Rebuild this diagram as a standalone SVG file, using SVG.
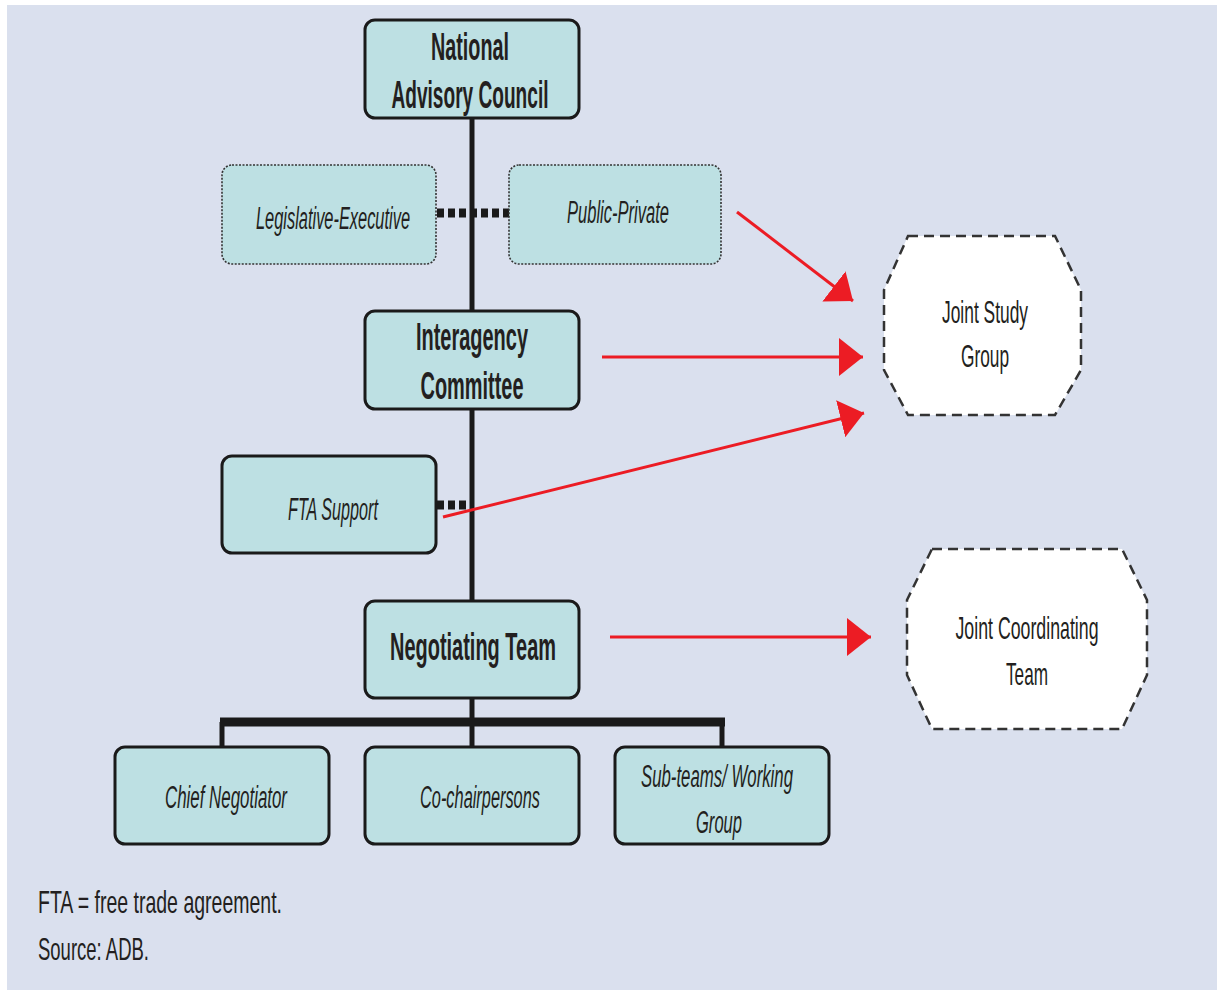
<svg xmlns="http://www.w3.org/2000/svg" width="1217" height="990" viewBox="0 0 1217 990">
<defs>
<style>
.box{fill:#bde0e3;stroke:#1a1a1a;stroke-width:3}
.dbox{fill:#bde0e3;stroke:#333;stroke-width:1.6;stroke-dasharray:2 1.5}
.oct{fill:#ffffff;stroke:#333;stroke-width:2.5;stroke-dasharray:10 6}
.t{font-family:"Liberation Sans Narrow","Liberation Sans",Arial,sans-serif;fill:#231f20;text-anchor:middle}
.b{font-weight:bold;font-size:38px}
.i{font-style:italic;font-size:31px}
.r{font-size:32px}
.line{stroke:#1a1a1a;stroke-width:5;fill:none}
.dot{stroke:#1a1a1a;stroke-width:9;stroke-dasharray:7 4;fill:none}
.red{stroke:#ec1c24;stroke-width:3;fill:none}
.note{font-family:"Liberation Sans Narrow","Liberation Sans",Arial,sans-serif;fill:#231f20;font-size:32px}
</style>
<marker id="ah" viewBox="0 0 24 38" refX="24" refY="19" markerWidth="24" markerHeight="38" markerUnits="userSpaceOnUse" orient="auto">
<path d="M0,0 L24,19 L0,38 Z" fill="#ec1c24"/>
</marker>
</defs>
<rect x="7" y="5" width="1210" height="985" fill="#dae0ee"/>
<g id="connectors">
<path class="line" d="M472,118 V601 M472,698 V722"/>
<path d="M220,722 H725" stroke="#1a1a1a" stroke-width="9" fill="none"/>
<path class="line" d="M222,722 V747 M472,722 V747 M722,722 V747"/>
<path class="dot" d="M437,213 H509"/>
<path class="dot" d="M437,505 H468"/>
<path class="red" marker-end="url(#ah)" d="M737,212 L853,301"/>
<path class="red" marker-end="url(#ah)" d="M602,357 L863,357"/>
<path class="red" marker-end="url(#ah)" d="M443,517 L864,413"/>
<path class="red" marker-end="url(#ah)" d="M610,637 L871,637"/>
</g>
<g id="nac">
<rect class="box" x="365" y="20" width="214" height="98" rx="10"/>
<text class="t b" x="470" y="60" textLength="78" lengthAdjust="spacingAndGlyphs">National</text>
<text class="t b" x="470" y="108" textLength="157" lengthAdjust="spacingAndGlyphs">Advisory Council</text>
</g>
<g id="legislative">
<rect class="dbox" x="222" y="165" width="214" height="99" rx="10"/>
<text class="t i" x="333" y="229" textLength="154" lengthAdjust="spacingAndGlyphs">Legislative-Executive</text>
</g>
<g id="public">
<rect class="dbox" x="509" y="165" width="212" height="99" rx="10"/>
<text class="t i" x="618" y="223" textLength="102" lengthAdjust="spacingAndGlyphs">Public-Private</text>
</g>
<g id="interagency">
<rect class="box" x="365" y="311" width="214" height="98" rx="10"/>
<text class="t b" x="472" y="350" textLength="112" lengthAdjust="spacingAndGlyphs">Interagency</text>
<text class="t b" x="472" y="399" textLength="103" lengthAdjust="spacingAndGlyphs">Committee</text>
</g>
<g id="fta">
<rect class="box" x="222" y="456" width="214" height="97" rx="10"/>
<text class="t i" x="333" y="520" textLength="90" lengthAdjust="spacingAndGlyphs">FTA Support</text>
</g>
<g id="negotiating">
<rect class="box" x="365" y="601" width="214" height="97" rx="10"/>
<text class="t b" x="473" y="660" textLength="166" lengthAdjust="spacingAndGlyphs">Negotiating Team</text>
</g>
<g id="chief">
<rect class="box" x="115" y="747" width="214" height="97" rx="10"/>
<text class="t i" x="226" y="808" textLength="122" lengthAdjust="spacingAndGlyphs">Chief Negotiator</text>
</g>
<g id="cochair">
<rect class="box" x="365" y="747" width="214" height="97" rx="10"/>
<text class="t i" x="480" y="808" textLength="120" lengthAdjust="spacingAndGlyphs">Co-chairpersons</text>
</g>
<g id="subteams">
<rect class="box" x="615" y="747" width="214" height="97" rx="10"/>
<text class="t i" x="717" y="787" textLength="152" lengthAdjust="spacingAndGlyphs">Sub-teams/ Working</text>
<text class="t i" x="719" y="833" textLength="46" lengthAdjust="spacingAndGlyphs">Group</text>
</g>
<g id="jsg">
<path class="oct" d="M908,236 H1055 L1081,290 V370 L1055,415 H908 L884,370 V290 Z"/>
<text class="t r" x="985" y="323" textLength="86" lengthAdjust="spacingAndGlyphs">Joint Study</text>
<text class="t r" x="985" y="367" textLength="48" lengthAdjust="spacingAndGlyphs">Group</text>
</g>
<g id="jct">
<path class="oct" d="M932,549 H1122 L1147,600 V675 L1122,729 H932 L907,675 V600 Z"/>
<text class="t r" x="1027" y="639" textLength="143" lengthAdjust="spacingAndGlyphs">Joint Coordinating</text>
<text class="t r" x="1027" y="685" textLength="42" lengthAdjust="spacingAndGlyphs">Team</text>
</g>
<g id="notes">
<text class="note" x="38" y="913" textLength="244" lengthAdjust="spacingAndGlyphs">FTA = free trade agreement.</text>
<text class="note" x="38" y="960" textLength="111" lengthAdjust="spacingAndGlyphs">Source: ADB.</text>
</g>
</svg>
